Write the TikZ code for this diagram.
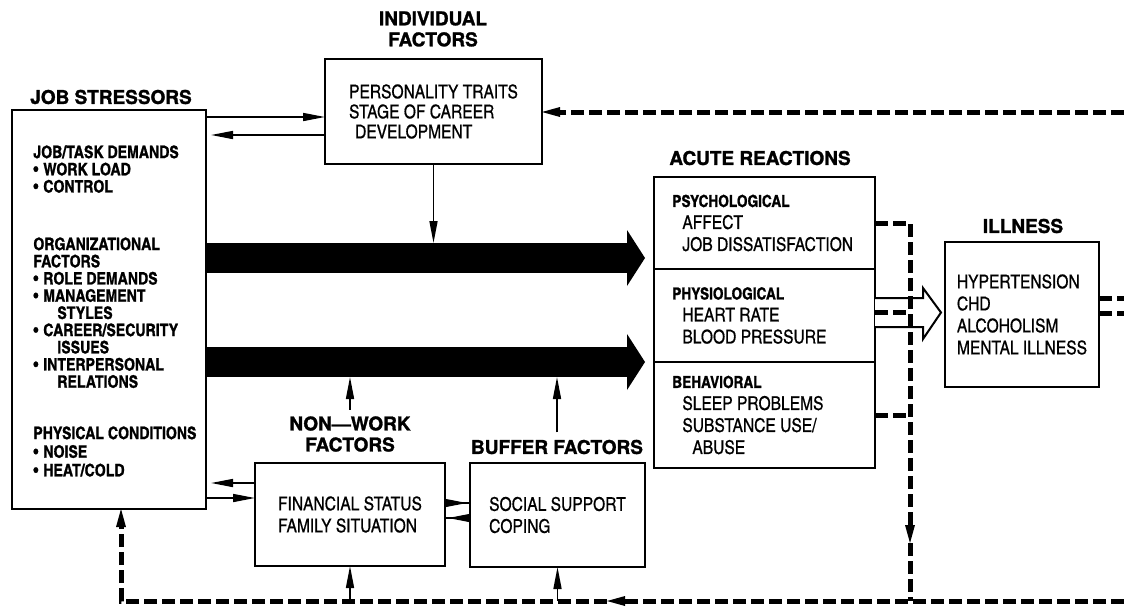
\documentclass[tikz,border=0pt]{standalone}
\usepackage{fontspec}
\setmainfont{TeX Gyre Heros}[BoldFeatures={FakeBold=1.4}]
\newfontfamily\cnfont{texgyreheroscn}[Extension=.otf, UprightFont=*-regular, UprightFeatures={FakeBold=0.6},
  BoldFont=*-bold, BoldFeatures={FakeBold=1}]
\usetikzlibrary{arrows.meta,positioning,calc}

\newcommand\ttlfont{\bfseries\fontsize{9.5}{10.5}\selectfont}
\newcommand\jsfont{\cnfont\bfseries\fontsize{8.6}{8.6}\selectfont}
\newcommand\physfont{\cnfont\bfseries\fontsize{8.6}{9.3}\selectfont}
\newcommand\itemfont{\cnfont\fontsize{9.5}{11}\selectfont}
\newcommand\indfont{\cnfont\fontsize{9.5}{10}\selectfont}
\newcommand\subhd{\cnfont\bfseries\fontsize{8.3}{11}\selectfont}
\newcommand\bul{\textbullet\hspace{2.5pt}}
\newcommand\cont{\hspace*{12pt}}

\tikzset{
  box/.style={draw, line width=1.2pt, inner sep=0pt, outer sep=0pt, align=left, font=\itemfont},
  txt/.style={inner sep=0pt, align=left, font=\itemfont, anchor=west},
  ttl/.style={inner sep=0pt, align=center, font=\ttlfont},
  jstext/.style={inner sep=0pt, anchor=north west, align=left, font=\jsfont},
  arr/.style={line width=0.8pt, -{Triangle[length=11pt,width=4pt]}},
  wedge/.style={line width=0.8pt},
  bigarrow/.style={line width=15pt, -{Triangle[length=9pt,width=28pt,line width=0pt]}, shorten >=4.5pt},
  hollow/.style={line width=1pt, fill=white, line join=miter},
  fb/.style={line width=2.5pt, dash pattern=on 6.5pt off 2.5pt},
  fbtip/.style={-{Triangle[length=9pt,width=5pt,line width=0pt]}},
}

\begin{document}
\begin{tikzpicture}[x=0.5pt, y=-0.5pt]
  \useasboundingbox (0,0) rectangle (1124,606);

  % the boxes
  \node[box, minimum width=97pt, minimum height=199.5pt] (js) at (109,309.5) {};
  \node[box, minimum width=108.5pt, minimum height=52.5pt, font=\indfont] (ind) at (433.5,111.5)
       {PERSONALITY TRAITS\\STAGE OF CAREER\\\hspace*{3pt}DEVELOPMENT};
  \node[box, minimum width=77pt, minimum height=72.5pt] (ill) at (1022,314.5)
       {HYPERTENSION\\CHD\\ALCOHOLISM\\MENTAL ILLNESS};
  \node[box, minimum width=95pt, minimum height=51.5pt] (nw) at (350,514.5)
       {FINANCIAL STATUS\\FAMILY SITUATION};
  \node[box, minimum width=87.5pt, minimum height=52pt] (buf) at (557.5,515)
       {SOCIAL SUPPORT\\COPING};

  % acute reactions: three parts on top of each other
  \node[box, minimum width=110.5pt, minimum height=46pt] (psych) at (764.5,223) {};
  \node[box, minimum width=110.5pt, minimum height=46.5pt, below=0pt of psych] (physio) {};
  \node[box, minimum width=110.5pt, minimum height=53pt, below=0pt of physio] (behav) {};
  \node[txt] (psychtxt) at ([xshift=9pt]psych.west)
       {{\subhd PSYCHOLOGICAL}\\\hspace*{5pt}AFFECT\\\hspace*{5pt}JOB DISSATISFACTION};
  \node[txt] (physiotxt) at ([xshift=9pt]physio.west)
       {{\subhd PHYSIOLOGICAL}\\\hspace*{5pt}HEART RATE\\\hspace*{5pt}BLOOD PRESSURE};
  \node[txt] (behavtxt) at ([xshift=9pt]behav.west)
       {{\subhd BEHAVIORAL}\\\hspace*{5pt}SLEEP PROBLEMS\\\hspace*{5pt}SUBSTANCE USE/\\\hspace*{10pt}ABUSE};

  % job stressors list
  \node[jstext] (jtask) at (33,145) {JOB/TASK DEMANDS\\\bul WORK LOAD\\\bul CONTROL};
  \node[jstext] (org) at (33,237) {ORGANIZATIONAL\\FACTORS\\\bul ROLE DEMANDS\\\bul MANAGEMENT\\\cont STYLES\\%
       \bul CAREER/SECURITY\\\cont ISSUES\\\bul INTERPERSONAL\\\cont RELATIONS};
  \node[jstext, font=\physfont] (phys) at (33,426) {PHYSICAL CONDITIONS\\\bul NOISE\\\bul HEAT/COLD};

  % headings
  \node[ttl] (jsttl) at (111,97) {JOB STRESSORS};
  \node[ttl] (indttl) at (433,29) {INDIVIDUAL\\FACTORS};
  \node[ttl] (acttl) at (760,158) {ACUTE REACTIONS};
  \node[ttl] (illttl) at (1023,226) {ILLNESS};
  \node[ttl] (nwttl) at (350,434) {NON—WORK\\FACTORS};
  \node[ttl] (bufttl) at (557,447) {BUFFER FACTORS};

  % heights and free ends of the connectors
  \coordinate (a1) at (0,117);
  \coordinate (a2) at (0,135);
  \coordinate (upT) at (0,243);
  \coordinate (upC) at (0,258);
  \coordinate (lowC) at (0,362);
  \coordinate (lowB) at (0,377);
  \coordinate (b1) at (0,483);
  \coordinate (b2) at (0,498);
  \coordinate (c1) at (0,503);
  \coordinate (c2) at (0,518);
  \coordinate (holC) at (0,312.5);
  \coordinate (fbx) at (910,0);
  \coordinate (arrD) at (0,543);
  \coordinate (ilA) at (0,298);
  \coordinate (ilB) at (0,313);
  \coordinate (topR) at (1124,112);
  \coordinate (ilR1) at (1124,298);
  \coordinate (ilR2) at (1124,313);
  \coordinate (botR) at (1124,601);
  \coordinate (botM) at (607,601);
  \coordinate (botL) at (121,601);

  % plain arrows
  \draw[arr] (js.east |- a1) -- (ind.west |- a1);
  \draw[arr, shorten >=2.5pt] (ind.west |- a2) -- (js.east |- a2);
  \draw[arr] (ind.south) -- (ind.south |- upT);
  \draw[arr, shorten >=2.5pt] (nw.west |- b1) -- (js.east |- b1);
  \draw[arr] (js.east |- b2) -- (nw.west |- b2);
  \draw[wedge, {Triangle[reversed,length=11pt,width=4pt]}-] (nw.east |- c1) -- (buf.west |- c1);
  \draw[wedge, -{Triangle[reversed,length=11pt,width=4pt]}] (nw.east |- c2) -- (buf.west |- c2);

  % the two wide arrows
  \draw[bigarrow] (js.east |- upC) -- (psych.west |- upC);
  \draw[bigarrow] (js.east |- lowC) -- (behav.west |- lowC);
  \draw[arr, shorten <=3pt] (nwttl.north) -- (nwttl.north |- lowB);
  \draw[arr, shorten <=3.5pt] (bufttl.north) -- (bufttl.north |- lowB);

  % open arrow to illness
  \draw[hollow] ($(physio.east |- holC)+(0,-14.5)$) -- ++(48,0) -- ++(0,-10)
       -- ++(18,24.5) -- ++(-18,26.5) -- ++(0,-12) -- ++(-48,0);

  % feedback loops (dashed)
  \draw[fb, fbtip] (topR) -- (ind.east |- topR);
  \draw[fb, fbtip] (psych.east) -- (psych.east -| fbx) -- (fbx |- arrD);
  \draw[fb] (fbx |- arrD) -- (fbx |- botL);
  \draw[fb] (physio.east |- holC) -- (fbx |- holC);
  \draw[fb] (behav.east) -- (behav.east -| fbx);
  \draw[fb] (ill.east |- ilA) -- (ilR1);
  \draw[fb] (ill.east |- ilB) -- (ilR2);
  \draw[fb, fbtip] (botR) -- (botM);
  \draw[fb, fbtip] (botM) -- (botL) -- (js.south -| botL);
  \draw[arr] (nw.south |- botL) -- (nw.south);
  \draw[arr] (buf.south |- botL) -- (buf.south);
\end{tikzpicture}
\end{document}
